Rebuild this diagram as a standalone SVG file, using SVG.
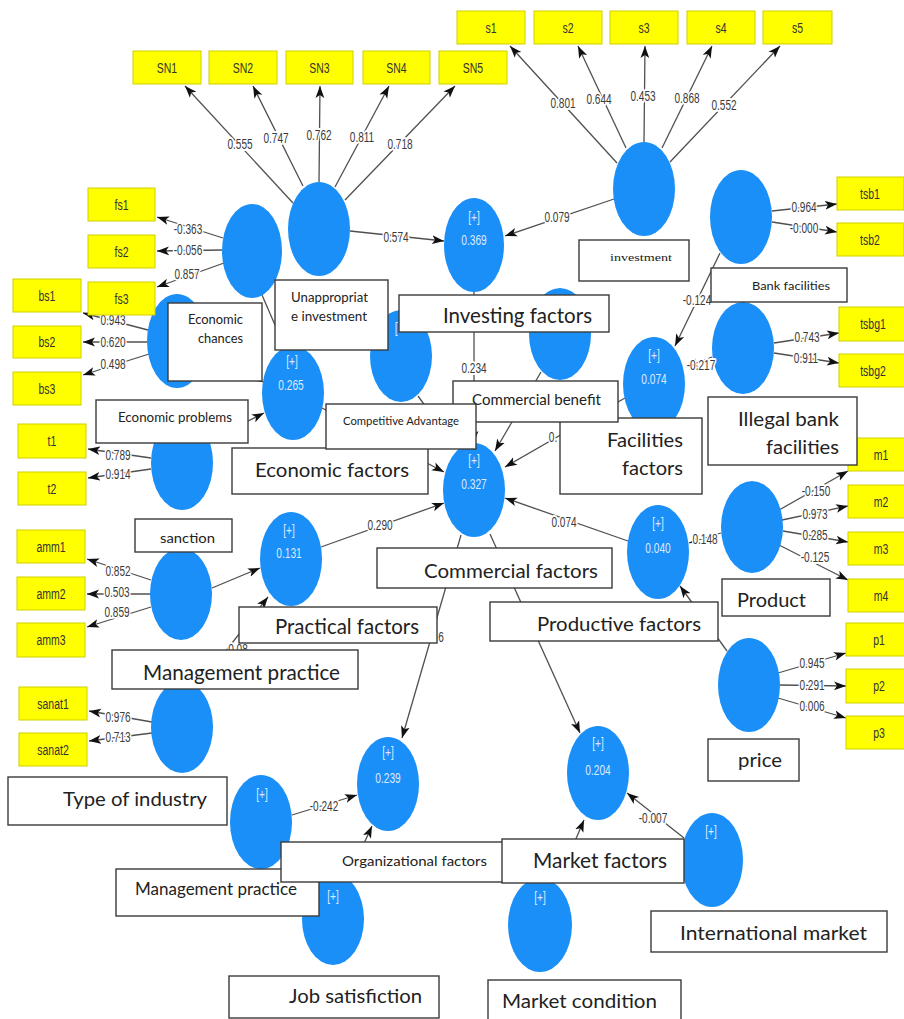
<svg xmlns="http://www.w3.org/2000/svg" width="904" height="1019" viewBox="0 0 904 1019">
<defs>
<marker id="ah" viewBox="0 0 12 10" refX="12" refY="5" markerWidth="12" markerHeight="10" markerUnits="userSpaceOnUse" orient="auto"><path d="M0,0.6 L12,5 L0,9.4 L3,5 z" fill="#111"/></marker>
<style>
.lk{stroke:#505050;stroke-width:1.3;fill:none;marker-end:url(#ah)}
.ln{font-family:"Liberation Sans",Arial,sans-serif;font-size:15px;fill:#3a3a3a;text-anchor:middle;dominant-baseline:central;stroke:#fff;stroke-width:4px;stroke-linejoin:round;paint-order:stroke;transform-box:fill-box;transform-origin:center;transform:scaleX(0.67)}
.lat{fill:#1a8ff7}
.lv{font-family:"Liberation Sans",Arial,sans-serif;font-size:15px;fill:#dce9ff;text-anchor:middle;dominant-baseline:central;transform-box:fill-box;transform-origin:center;transform:scaleX(0.68)}
.ind{fill:#ffff00;stroke:#cfcf00;stroke-width:1}
.it{font-family:"Liberation Sans",Arial,sans-serif;font-size:15px;fill:#333;text-anchor:middle;dominant-baseline:central;transform-box:fill-box;transform-origin:center;transform:scaleX(0.7)}
.bx{fill:#fff;stroke:#3a3a3a;stroke-width:1.4}
.bt{font-family:Lato,"Open Sans",sans-serif;fill:#222}
.bs{font-family:"Liberation Serif","Times New Roman",serif;fill:#222}
</style>
</defs>
<rect width="904" height="1019" fill="#fff"/>

<g id="connectors">
<line class="lk" x1="293" y1="203" x2="185" y2="86"/>
<line class="lk" x1="303" y1="186" x2="253" y2="86"/>
<line class="lk" x1="319" y1="182" x2="320" y2="86"/>
<line class="lk" x1="335" y1="187" x2="389" y2="86"/>
<line class="lk" x1="345" y1="200" x2="455" y2="86"/>
<line class="lk" x1="617" y1="163" x2="510" y2="46"/>
<line class="lk" x1="626" y1="148" x2="578" y2="46"/>
<line class="lk" x1="644" y1="142" x2="645" y2="46"/>
<line class="lk" x1="662" y1="148" x2="712" y2="46"/>
<line class="lk" x1="670" y1="162" x2="780" y2="46"/>
<line class="lk" x1="223" y1="238" x2="157" y2="217"/>
<line class="lk" x1="222" y1="250" x2="157" y2="251"/>
<line class="lk" x1="224" y1="263" x2="157" y2="287"/>
<line class="lk" x1="148" y1="330" x2="83" y2="313"/>
<line class="lk" x1="147" y1="342" x2="83" y2="342"/>
<line class="lk" x1="149" y1="354" x2="83" y2="375"/>
<line class="lk" x1="151" y1="458" x2="88" y2="449"/>
<line class="lk" x1="151" y1="469" x2="88" y2="478"/>
<line class="lk" x1="151" y1="580" x2="87" y2="559"/>
<line class="lk" x1="150" y1="594" x2="87" y2="594"/>
<line class="lk" x1="151" y1="607" x2="87" y2="627"/>
<line class="lk" x1="152" y1="722" x2="89" y2="711"/>
<line class="lk" x1="152" y1="733" x2="89" y2="741"/>
<line class="lk" x1="772" y1="211" x2="837" y2="204"/>
<line class="lk" x1="772" y1="222" x2="837" y2="232"/>
<line class="lk" x1="774" y1="343" x2="839" y2="333"/>
<line class="lk" x1="774" y1="353" x2="839" y2="363"/>
<line class="lk" x1="779" y1="510" x2="848" y2="471"/>
<line class="lk" x1="782" y1="520" x2="848" y2="506"/>
<line class="lk" x1="783" y1="531" x2="848" y2="542"/>
<line class="lk" x1="779" y1="545" x2="848" y2="580"/>
<line class="lk" x1="778" y1="673" x2="846" y2="653"/>
<line class="lk" x1="780" y1="685" x2="846" y2="686"/>
<line class="lk" x1="778" y1="698" x2="846" y2="718"/>
<line class="lk" x1="350" y1="231" x2="444" y2="241"/>
<line class="lk" x1="614" y1="199" x2="505" y2="236"/>
<line class="lk" x1="474" y1="292" x2="474" y2="443"/>
<line class="lk" x1="262" y1="295" x2="285" y2="348"/>
<line class="lk" x1="206" y1="352" x2="263" y2="382"/>
<line class="lk" x1="209" y1="441" x2="264" y2="413"/>
<line class="lk" x1="322" y1="408" x2="444" y2="472"/>
<line class="lk" x1="418" y1="396" x2="455" y2="447"/>
<line class="lk" x1="541" y1="372" x2="495" y2="451"/>
<line class="lk" x1="625" y1="398" x2="505" y2="467"/>
<line class="lk" x1="321" y1="547" x2="444" y2="503"/>
<line class="lk" x1="628" y1="541" x2="505" y2="498"/>
<line class="lk" x1="461" y1="535" x2="402" y2="738"/>
<line class="lk" x1="490" y1="534" x2="580" y2="733"/>
<line class="lk" x1="720" y1="253" x2="675" y2="346"/>
<line class="lk" x1="712" y1="357" x2="686" y2="367"/>
<line class="lk" x1="721" y1="533" x2="689" y2="543"/>
<line class="lk" x1="727" y1="651" x2="680" y2="586"/>
<line class="lk" x1="212" y1="588" x2="260" y2="568"/>
<line class="lk" x1="200" y1="684" x2="268" y2="597"/>
<line class="lk" x1="292" y1="815" x2="357" y2="795"/>
<line class="lk" x1="348" y1="878" x2="372" y2="826"/>
<line class="lk" x1="558" y1="881" x2="584" y2="820"/>
<line class="lk" x1="684" y1="838" x2="627" y2="793"/>
<text class="ln" x="240" y="144">0.555</text>
<text class="ln" x="276" y="138">0.747</text>
<text class="ln" x="319" y="135">0.762</text>
<text class="ln" x="362" y="137">0.811</text>
<text class="ln" x="400" y="144">0.718</text>
<text class="ln" x="563" y="103">0.801</text>
<text class="ln" x="599" y="99">0.644</text>
<text class="ln" x="643" y="96">0.453</text>
<text class="ln" x="687" y="98">0.868</text>
<text class="ln" x="724" y="105">0.552</text>
<text class="ln" x="188" y="229">-0.363</text>
<text class="ln" x="188" y="250">-0.056</text>
<text class="ln" x="187" y="274">0.857</text>
<text class="ln" x="113" y="320">0.943</text>
<text class="ln" x="113" y="342">0.620</text>
<text class="ln" x="113" y="364">0.498</text>
<text class="ln" x="118" y="455">0.789</text>
<text class="ln" x="118" y="474">0.914</text>
<text class="ln" x="118" y="571">0.852</text>
<text class="ln" x="117" y="592">0.503</text>
<text class="ln" x="117" y="612">0.859</text>
<text class="ln" x="118" y="717">0.976</text>
<text class="ln" x="118" y="737">0.713</text>
<text class="ln" x="804" y="207">0.964</text>
<text class="ln" x="804" y="228">-0.000</text>
<text class="ln" x="807" y="337">0.743</text>
<text class="ln" x="806" y="358">0.911</text>
<text class="ln" x="816" y="491">-0.150</text>
<text class="ln" x="815" y="514">0.973</text>
<text class="ln" x="815" y="535">0.285</text>
<text class="ln" x="815" y="557">-0.125</text>
<text class="ln" x="812" y="663">0.945</text>
<text class="ln" x="812" y="685">0.291</text>
<text class="ln" x="812" y="706">0.006</text>
<text class="ln" x="396" y="237">0.574</text>
<text class="ln" x="557" y="217">0.079</text>
<text class="ln" x="474" y="368">0.234</text>
<text class="ln" x="553" y="437">0.</text>
<text class="ln" x="380" y="525">0.290</text>
<text class="ln" x="564" y="522">0.074</text>
<text class="ln" x="441" y="637">6</text>
<text class="ln" x="697" y="300">-0.124</text>
<text class="ln" x="238" y="649">0.08</text>
<text class="ln" x="324" y="806">-0.242</text>
<text class="ln" x="653" y="818">-0.007</text>
</g>

<g id="n-sn"><ellipse class="lat" cx="319" cy="229" rx="31" ry="47"/></g>
<g id="n-fs"><ellipse class="lat" cx="252" cy="251" rx="30" ry="47"/></g>
<g id="n-bs"><ellipse class="lat" cx="177" cy="341" rx="30" ry="47"/></g>
<g id="n-t"><ellipse class="lat" cx="182" cy="463" rx="31" ry="47"/></g>
<g id="n-econ"><ellipse class="lat" cx="293" cy="393" rx="31" ry="47"/><text class="lv" x="292" y="361">[+]</text><text class="lv" x="291" y="385">0.265</text></g>
<g id="n-inv"><ellipse class="lat" cx="474" cy="245" rx="30" ry="47"/><text class="lv" x="474" y="217">[+]</text><text class="lv" x="474" y="240">0.369</text></g>
<g id="n-s"><ellipse class="lat" cx="644" cy="189" rx="31" ry="47"/></g>
<g id="n-tsb"><ellipse class="lat" cx="741" cy="217" rx="31" ry="47"/></g>
<g id="n-tsbg"><ellipse class="lat" cx="743" cy="348" rx="31" ry="46"/></g>
<g id="n-fac"><ellipse class="lat" cx="654" cy="384" rx="31" ry="47"/><text class="lv" x="654" y="355">[+]</text><text class="lv" x="654" y="379">0.074</text></g>
<g id="n-ca"><ellipse class="lat" cx="401" cy="356" rx="31" ry="46"/><text class="lv" x="396" y="328">[</text></g>
<g id="n-cb"><ellipse class="lat" cx="560" cy="334" rx="31" ry="46"/></g>
<g id="n-com"><ellipse class="lat" cx="474" cy="490" rx="31" ry="47"/><text class="lv" x="474" y="460">[+]</text><text class="lv" x="474" y="484">0.327</text></g>
<g id="n-prac"><ellipse class="lat" cx="291" cy="559" rx="31" ry="47"/><text class="lv" x="289" y="530">[+]</text><text class="lv" x="289" y="553">0.131</text></g>
<g id="n-amm"><ellipse class="lat" cx="181" cy="594" rx="31" ry="46"/></g>
<g id="n-sanat"><ellipse class="lat" cx="182" cy="727" rx="31" ry="46"/></g>
<g id="n-prod"><ellipse class="lat" cx="658" cy="552" rx="31" ry="47"/><text class="lv" x="658" y="523">[+]</text><text class="lv" x="658" y="548">0.040</text></g>
<g id="n-m"><ellipse class="lat" cx="752" cy="527" rx="31" ry="46"/></g>
<g id="n-p"><ellipse class="lat" cx="749" cy="685" rx="31" ry="47"/></g>
<g id="n-org"><ellipse class="lat" cx="388" cy="784" rx="31" ry="47"/><text class="lv" x="388" y="752">[+]</text><text class="lv" x="388" y="778">0.239</text></g>
<g id="n-mkt"><ellipse class="lat" cx="598" cy="773" rx="31" ry="47"/><text class="lv" x="598" y="743">[+]</text><text class="lv" x="598" y="770">0.204</text></g>
<g id="n-mp"><ellipse class="lat" cx="261" cy="822" rx="31" ry="47"/><text class="lv" x="262" y="794">[+]</text></g>
<g id="n-js"><ellipse class="lat" cx="333" cy="919" rx="31" ry="46"/><text class="lv" x="333" y="896">[+]</text></g>
<g id="n-mc"><ellipse class="lat" cx="540" cy="925" rx="32" ry="47"/><text class="lv" x="540" y="897">[+]</text></g>
<g id="n-im"><ellipse class="lat" cx="712" cy="860" rx="31" ry="47"/><text class="lv" x="711" y="831">[+]</text></g>

<g id="edge-labels-over">
<text class="ln" x="701" y="365">-0.217</text>
<text class="ln" x="705" y="539">0.148</text>
</g>

<g id="i-SN1"><rect class="ind" x="133" y="51" width="68" height="33"/><text class="it" x="167" y="67.5">SN1</text></g>
<g id="i-SN2"><rect class="ind" x="209" y="51" width="68" height="33"/><text class="it" x="243" y="67.5">SN2</text></g>
<g id="i-SN3"><rect class="ind" x="286" y="51" width="67" height="33"/><text class="it" x="319.5" y="67.5">SN3</text></g>
<g id="i-SN4"><rect class="ind" x="363" y="51" width="67" height="33"/><text class="it" x="396.5" y="67.5">SN4</text></g>
<g id="i-SN5"><rect class="ind" x="439" y="51" width="68" height="33"/><text class="it" x="473" y="67.5">SN5</text></g>
<g id="i-s1"><rect class="ind" x="457" y="11" width="68" height="33"/><text class="it" x="491" y="27.5">s1</text></g>
<g id="i-s2"><rect class="ind" x="534" y="11" width="68" height="33"/><text class="it" x="568" y="27.5">s2</text></g>
<g id="i-s3"><rect class="ind" x="610" y="11" width="68" height="33"/><text class="it" x="644" y="27.5">s3</text></g>
<g id="i-s4"><rect class="ind" x="687" y="11" width="68" height="33"/><text class="it" x="721" y="27.5">s4</text></g>
<g id="i-s5"><rect class="ind" x="763" y="11" width="69" height="33"/><text class="it" x="797.5" y="27.5">s5</text></g>
<g id="i-fs1"><rect class="ind" x="88" y="188" width="67" height="33"/><text class="it" x="121.5" y="204.5">fs1</text></g>
<g id="i-fs2"><rect class="ind" x="88" y="235" width="67" height="33"/><text class="it" x="121.5" y="251.5">fs2</text></g>
<g id="i-fs3"><rect class="ind" x="88" y="282" width="67" height="33"/><text class="it" x="121.5" y="298.5">fs3</text></g>
<g id="i-bs1"><rect class="ind" x="13" y="279" width="68" height="33"/><text class="it" x="47" y="295.5">bs1</text></g>
<g id="i-bs2"><rect class="ind" x="13" y="326" width="68" height="32"/><text class="it" x="47" y="342">bs2</text></g>
<g id="i-bs3"><rect class="ind" x="13" y="372" width="68" height="33"/><text class="it" x="47" y="388.5">bs3</text></g>
<g id="i-t1"><rect class="ind" x="18" y="424" width="68" height="34"/><text class="it" x="52" y="441">t1</text></g>
<g id="i-t2"><rect class="ind" x="18" y="472" width="68" height="33"/><text class="it" x="52" y="488.5">t2</text></g>
<g id="i-amm1"><rect class="ind" x="17" y="530" width="68" height="33"/><text class="it" x="51" y="546.5">amm1</text></g>
<g id="i-amm2"><rect class="ind" x="17" y="577" width="68" height="33"/><text class="it" x="51" y="593.5">amm2</text></g>
<g id="i-amm3"><rect class="ind" x="17" y="623" width="68" height="34"/><text class="it" x="51" y="640">amm3</text></g>
<g id="i-sanat1"><rect class="ind" x="19" y="687" width="68" height="33"/><text class="it" x="53" y="703.5">sanat1</text></g>
<g id="i-sanat2"><rect class="ind" x="19" y="733" width="68" height="33"/><text class="it" x="53" y="749.5">sanat2</text></g>
<g id="i-tsb1"><rect class="ind" x="837" y="177" width="67" height="33"/><text class="it" x="870" y="193.5">tsb1</text></g>
<g id="i-tsb2"><rect class="ind" x="837" y="223" width="67" height="33"/><text class="it" x="870" y="239.5">tsb2</text></g>
<g id="i-tsbg1"><rect class="ind" x="839" y="307" width="68" height="34"/><text class="it" x="873" y="324">tsbg1</text></g>
<g id="i-tsbg2"><rect class="ind" x="839" y="354" width="68" height="33"/><text class="it" x="873" y="370.5">tsbg2</text></g>
<g id="i-m1"><rect class="ind" x="848" y="438" width="66" height="33"/><text class="it" x="881" y="454.5">m1</text></g>
<g id="i-m2"><rect class="ind" x="848" y="485" width="66" height="33"/><text class="it" x="881" y="501.5">m2</text></g>
<g id="i-m3"><rect class="ind" x="848" y="532" width="66" height="33"/><text class="it" x="881" y="548.5">m3</text></g>
<g id="i-m4"><rect class="ind" x="848" y="579" width="66" height="33"/><text class="it" x="881" y="595.5">m4</text></g>
<g id="i-p1"><rect class="ind" x="846" y="623" width="66" height="33"/><text class="it" x="879" y="639.5">p1</text></g>
<g id="i-p2"><rect class="ind" x="846" y="669" width="66" height="34"/><text class="it" x="879" y="686">p2</text></g>
<g id="i-p3"><rect class="ind" x="846" y="716" width="66" height="33"/><text class="it" x="879" y="732.5">p3</text></g>

<g id="b-unapp"><rect class="bx" x="275" y="280" width="113" height="70"/><text class="bt" x="291" y="302" font-size="13" textLength="77" lengthAdjust="spacingAndGlyphs">Unappropriat</text><text class="bt" x="291" y="321" font-size="13" textLength="76" lengthAdjust="spacingAndGlyphs">e investment</text></g>
<g id="b-echances"><rect class="bx" x="168" y="303" width="94" height="78"/><text class="bt" x="188" y="324" font-size="13.5" textLength="55" lengthAdjust="spacingAndGlyphs">Economic</text><text class="bt" x="198" y="343" font-size="13.5" textLength="45" lengthAdjust="spacingAndGlyphs">chances</text></g>
<g id="b-eprob"><rect class="bx" x="96" y="400" width="152" height="43"/><text class="bt" x="118" y="422" font-size="13.5" textLength="114" lengthAdjust="spacingAndGlyphs">Economic problems</text></g>
<g id="b-efact"><rect class="bx" x="232" y="448" width="196" height="46"/><text class="bt" x="255" y="477" font-size="20" textLength="154" lengthAdjust="spacingAndGlyphs">Economic factors</text></g>
<g id="b-invf"><rect class="bx" x="399" y="295" width="210" height="37"/><text class="bt" x="443" y="323" font-size="20.5" textLength="149" lengthAdjust="spacingAndGlyphs">Investing factors</text></g>
<g id="b-facf"><rect class="bx" x="560" y="418" width="142" height="76"/><text class="bt" x="607" y="447" font-size="20" textLength="76" lengthAdjust="spacingAndGlyphs">Facilities</text><text class="bt" x="622" y="475" font-size="20" textLength="61" lengthAdjust="spacingAndGlyphs">factors</text></g>
<g id="b-cben"><rect class="bx" x="453" y="381" width="165" height="41"/><text class="bt" x="472" y="405" font-size="15" textLength="129" lengthAdjust="spacingAndGlyphs">Commercial benefit</text></g>
<g id="b-cadv"><rect class="bx" x="326" y="404" width="150" height="45"/><text class="bt" x="343" y="425" font-size="11" textLength="116" lengthAdjust="spacingAndGlyphs">Competitive Advantage</text></g>
<g id="b-invest"><rect class="bx" x="579" y="240" width="110" height="41"/><text class="bs" x="610" y="261" font-size="11" textLength="62" lengthAdjust="spacingAndGlyphs">investment</text></g>
<g id="b-bank"><rect class="bx" x="711" y="268" width="136" height="34"/><text class="bt" x="752" y="290" font-size="12" textLength="78" lengthAdjust="spacingAndGlyphs">Bank facilities</text></g>
<g id="b-illegal"><rect class="bx" x="708" y="397" width="149" height="68"/><text class="bt" x="738" y="426" font-size="19.5" textLength="101" lengthAdjust="spacingAndGlyphs">Illegal bank</text><text class="bt" x="766" y="454" font-size="19.5" textLength="73" lengthAdjust="spacingAndGlyphs">facilities</text></g>
<g id="b-sanction"><rect class="bx" x="135" y="519" width="97" height="33"/><text class="bt" x="160" y="543" font-size="14" textLength="55" lengthAdjust="spacingAndGlyphs">sanction</text></g>
<g id="b-commf"><rect class="bx" x="377" y="548" width="235" height="40"/><text class="bt" x="424" y="578" font-size="20" textLength="174" lengthAdjust="spacingAndGlyphs">Commercial factors</text></g>
<g id="b-pracf"><rect class="bx" x="239" y="607" width="198" height="36"/><text class="bt" x="275" y="634" font-size="20.5" textLength="144" lengthAdjust="spacingAndGlyphs">Practical factors</text></g>
<g id="b-mprac1"><rect class="bx" x="112" y="650" width="246" height="39"/><text class="bt" x="143" y="680" font-size="20.5" textLength="197" lengthAdjust="spacingAndGlyphs">Management practice</text></g>
<g id="b-prodf"><rect class="bx" x="490" y="602" width="228" height="39"/><text class="bt" x="537" y="631" font-size="20" textLength="164" lengthAdjust="spacingAndGlyphs">Productive factors</text></g>
<g id="b-product"><rect class="bx" x="722" y="579" width="108" height="37"/><text class="bt" x="737" y="607" font-size="20" textLength="69" lengthAdjust="spacingAndGlyphs">Product</text></g>
<g id="b-price"><rect class="bx" x="708" y="739" width="91" height="42"/><text class="bt" x="738" y="767" font-size="20" textLength="44" lengthAdjust="spacingAndGlyphs">price</text></g>
<g id="b-type"><rect class="bx" x="8" y="777" width="219" height="48"/><text class="bt" x="63" y="806" font-size="20" textLength="144" lengthAdjust="spacingAndGlyphs">Type of industry</text></g>
<g id="b-mprac2"><rect class="bx" x="116" y="869" width="203" height="47"/><text class="bt" x="135" y="895" font-size="17" textLength="162" lengthAdjust="spacingAndGlyphs">Management practice</text></g>
<g id="b-orgf"><rect class="bx" x="281" y="842" width="234" height="40"/><text class="bt" x="342" y="866" font-size="14" textLength="145" lengthAdjust="spacingAndGlyphs">Organizational factors</text></g>
<g id="b-mktf"><rect class="bx" x="502" y="839" width="182" height="44"/><text class="bt" x="533" y="868" font-size="20.5" textLength="134" lengthAdjust="spacingAndGlyphs">Market factors</text></g>
<g id="b-intl"><rect class="bx" x="651" y="911" width="236" height="41"/><text class="bt" x="680" y="940" font-size="19.5" textLength="187" lengthAdjust="spacingAndGlyphs">International market</text></g>
<g id="b-job"><rect class="bx" x="229" y="976" width="210" height="42"/><text class="bt" x="289" y="1003" font-size="20" textLength="133" lengthAdjust="spacingAndGlyphs">Job satisfiction</text></g>
<g id="b-mcond"><rect class="bx" x="488" y="980" width="193" height="45"/><text class="bt" x="502" y="1008" font-size="19.5" textLength="155" lengthAdjust="spacingAndGlyphs">Market condition</text></g>
</svg>
